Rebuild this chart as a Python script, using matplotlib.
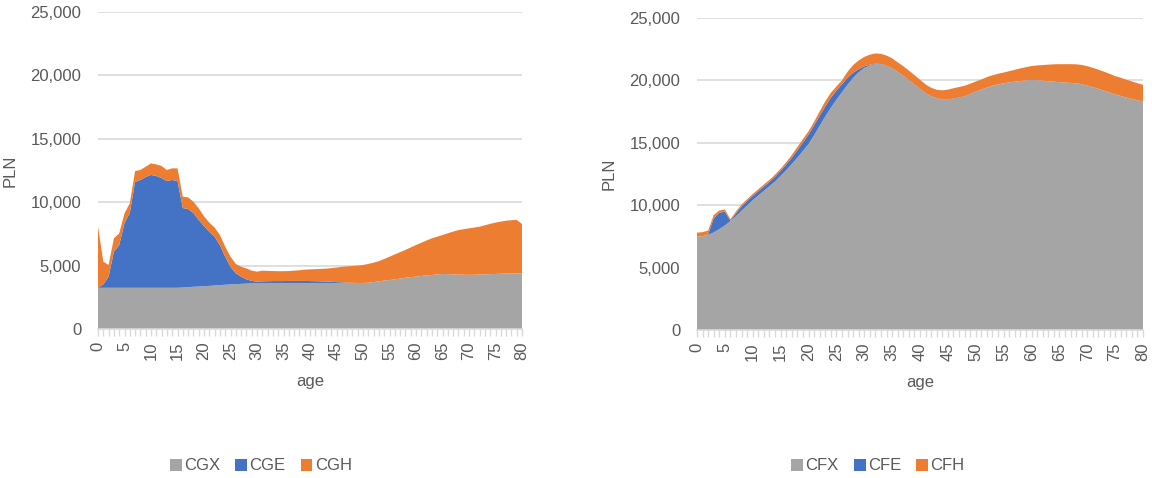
import matplotlib
matplotlib.use("Agg")
import matplotlib.pyplot as plt
from matplotlib.patches import Patch
from matplotlib.ticker import FuncFormatter, MultipleLocator
import numpy as np

plt.rcParams['font.family'] = ['Liberation Sans', 'DejaVu Sans']

ages = list(range(0, 81))

# ---- Left chart components ----
CGX = [3250]*16 + [3270, 3300, 3330, 3350, 3370, 3400, 3430, 3460, 3490, 3520,
                   3540, 3560, 3580, 3600, 3620] + [3630]*20 + \
      [3650, 3700, 3760, 3820, 3860, 3920, 3980, 4040, 4090, 4130,
       4180, 4230, 4260, 4300, 4340, 4330, 4310, 4290, 4280, 4270,
       4280, 4300, 4310, 4330, 4340, 4360, 4370, 4380, 4390, 4390]
CGE = [20, 270, 880, 2850, 3370, 5110, 5900, 8350, 8500, 8740,
       8900, 8820, 8650, 8420, 8500, 8420, 6270, 6160, 5820, 5250,
       4750, 4270, 3850, 3160, 2210, 1390, 850, 570, 340, 190,
       120, 130, 140, 150, 150, 150, 160, 160, 160, 160,
       150, 140, 130, 110, 90, 70, 50, 30, 10] + [0]*32
CGH = [4800, 1790, 920, 1050, 920, 760, 760, 860, 790, 810,
       910, 910, 950, 870, 920, 1000, 890, 920, 890, 920,
       760, 720, 720, 800, 790, 790, 740, 780, 860, 810,
       780, 840, 810, 790, 780, 780, 780, 810, 840, 890,
       920, 950, 980, 1020, 1080, 1150, 1220, 1280, 1330, 1370,
       1420, 1480, 1530, 1590, 1700, 1840, 1960, 2080, 2200, 2340,
       2490, 2620, 2750, 2890, 2980, 3070, 3220, 3370, 3510, 3590,
       3670, 3720, 3770, 3870, 3960, 4050, 4110, 4170, 4200, 4210, 3890]

# ---- Right chart components ----
CFX = [7480, 7520, 7620, 7820, 8080, 8380, 8720, 9120, 9560, 9980,
       10400, 10780, 11150, 11520, 11900, 12350, 12800, 13300, 13800, 14350,
       14900, 15600, 16350, 17100, 17800, 18450, 19050, 19650, 20200, 20650,
       21000, 21200, 21300, 21280, 21150, 20950, 20650, 20350, 20000, 19650,
       19300, 18950, 18700, 18550, 18450, 18450, 18520, 18600, 18700, 18880,
       19080, 19250, 19420, 19560, 19670, 19760, 19830, 19890, 19940, 19990,
       20030, 20010, 19970, 19930, 19890, 19850, 19820, 19790, 19760, 19690,
       19580, 19450, 19310, 19170, 19020, 18870, 18750, 18620, 18500, 18400, 18300]
CFE = [0, 0, 50, 1130, 1320, 1100, 30, 230, 350, 350,
       350, 350, 350, 350, 380, 400, 450, 500, 600, 680,
       750, 800, 810, 810, 800, 730, 650, 560, 420, 250,
       130, 60, 40, 30, 30, 30, 30, 30, 30, 30,
       30] + [30]*10 + [10]*30
CFH = [320, 320, 300, 260, 180, 180, 130, 150, 150, 150,
       150, 150, 160, 160, 170, 170, 190, 220, 260, 270,
       270, 280, 350, 400, 400, 330, 300, 480, 600, 700,
       750, 800, 820, 820, 810, 790, 770, 760, 760, 750,
       720, 700, 680, 670, 720, 780, 820, 840, 840, 820,
       800, 810, 830, 840, 850, 860, 900, 950, 1010, 1060,
       1110, 1180, 1250, 1320, 1390, 1440, 1470, 1500, 1520, 1540,
       1550, 1550, 1540, 1520, 1500, 1470, 1450, 1430, 1410, 1370, 1330]

left_names = ["CGX", "CGE", "CGH"]
right_names = ["CFX", "CFE", "CFH"]
colors = ["#A5A5A5", "#4472C4", "#ED7D31"]
yticks = [0, 5000, 10000, 15000, 20000, 25000]
xticks = list(range(0, 81, 5))

TXT = "#595959"
GRID = "#D9D9D9"
FS = 12

fig = plt.figure(figsize=(11.52, 4.78), dpi=100)
ax1 = fig.add_axes([98/1152, 1-329/478, 424/1152, 317/478])
ax2 = fig.add_axes([697/1152, 1-330/478, 446/1152, 312/478])

def style(ax, series, names):
    ax.stackplot(ages, *series, colors=colors, labels=names, linewidth=0)
    ax.set_xlim(0, 80)
    ax.set_ylim(0, 25000)
    ax.set_yticks(yticks)
    ax.yaxis.set_major_formatter(FuncFormatter(lambda v, p: f"{int(v):,}"))
    ax.set_xticks(xticks)
    ax.xaxis.set_minor_locator(MultipleLocator(1))
    ax.set_xticklabels([str(t) for t in xticks], rotation=90)
    ax.grid(axis='y', color=GRID, linewidth=1.2, zorder=0)
    ax.set_axisbelow(True)
    for s in ['top', 'right', 'left']:
        ax.spines[s].set_visible(False)
    ax.spines['bottom'].set_color(GRID)
    ax.spines['bottom'].set_linewidth(1.2)
    ax.tick_params(axis='y', length=0, labelsize=FS, labelcolor=TXT, pad=12)
    ax.tick_params(axis='x', which='both', length=5, color=GRID, width=1,
                   labelsize=FS, labelcolor=TXT, pad=4)
    ax.set_ylabel("PLN", fontsize=FS, color=TXT, labelpad=9)
    ax.set_xlabel("age", fontsize=FS, color=TXT, labelpad=10)

style(ax1, [CGX, CGE, CGH], left_names)
style(ax2, [CFX, CFE, CFH], right_names)

def legend(names, cx):
    handles = [Patch(facecolor=c, edgecolor='none', label=n) for c, n in zip(colors, names)]
    fig.legend(handles=handles, loc='center', bbox_to_anchor=(cx/1152, 1-466/478),
               ncol=3, frameon=False, fontsize=FS, handlelength=0.7, handleheight=0.7,
               handletextpad=0.15, columnspacing=0.9, labelcolor=TXT)

legend(left_names, 261)
legend(right_names, 878)

fig.savefig("out.png", dpi=100, facecolor="white")
